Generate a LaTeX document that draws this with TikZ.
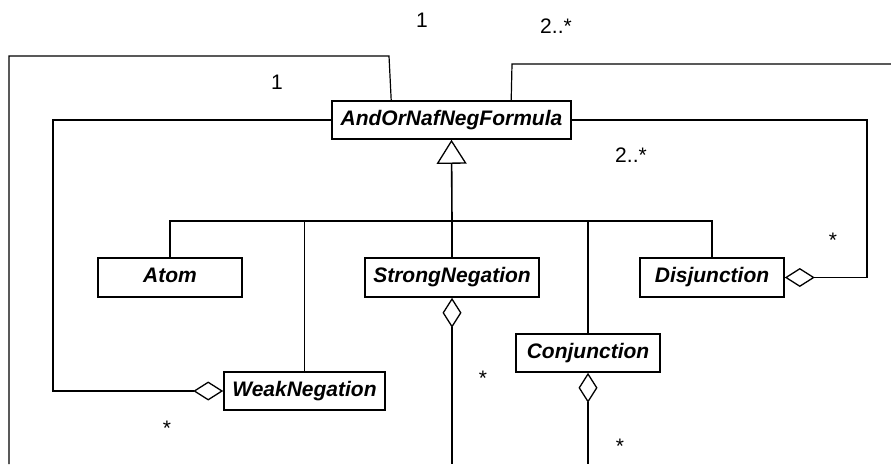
\documentclass[tikz,border=0pt]{standalone}
\usepackage{fontspec}
\setmainfont{Liberation Sans}
\usetikzlibrary{arrows.meta}
\begin{document}
\begin{tikzpicture}[x=1pt,y=-1pt,
  classbox/.style={draw, line width=1.6pt, inner sep=0pt, minimum height=38pt,
    text height=15pt, text depth=4.5pt,
    font=\fontsize{21}{25}\selectfont\bfseries\itshape},
  link/.style={line width=1.2pt},
  gen/.style={link, -{Triangle[open, length=24pt, width=30pt, line width=1.3pt]}},
  agg/.style={link, {Diamond[open, length=30pt, width=19pt, line width=1.3pt]}-},
  mult/.style={font=\fontsize{21}{25}\selectfont, inner sep=0pt},
]
\useasboundingbox (0,0) rectangle (891,464);
\clip (0,0) rectangle (891,464);

% classes
\node[classbox, minimum width=239pt] (F)  at (451.5,120)   {AndOrNafNegFormula};
\node[classbox, minimum width=144pt, minimum height=39pt] (A)  at (170,277.5) {Atom};
\node[classbox, minimum width=174pt, minimum height=39pt] (SN) at (452,277.5) {StrongNegation};
\node[classbox, minimum width=144pt, minimum height=39pt] (D)  at (712,277.5) {Disjunction};
\node[classbox, minimum width=144pt] (C)  at (588,353)   {Conjunction};
\node[classbox, minimum width=161pt] (WN) at (304.5,391) {WeakNegation};

% helper points
\coordinate (bus) at (452,221);
\coordinate (bottom) at (452,464);
\coordinate (wnbend) at (53,120);
\coordinate (dbend) at (867,120);
\coordinate (lloopA) at (389,56);
\coordinate (lloopB) at (9,56);
\coordinate (lloopC) at (9,464);
\coordinate (rloopA) at (512,64);
\coordinate (rloopB) at (891,64);

% generalisation tree
\draw[link] (A.north) |- (bus) -| (D.north);
\draw[link] (WN.north) -- (WN.north |- bus);
\draw[link] (SN.north) -- (SN.north |- bus);
\draw[link] (C.north) -- (C.north |- bus);
\draw[gen, line width=1.6pt] (bus) -- (F.south);

% aggregations
\draw[agg] (WN.west) -| (wnbend) -- (F.west);
\draw[agg] (SN.south) -- (SN.south |- bottom);
\draw[agg] (C.south) -- (C.south |- bottom);
\draw[agg] (D.east) -| (dbend) -- (F.east);

% associations leaving the top of the formula
\draw[link] ([xshift=60pt]F.north west) -- (lloopA) -- (lloopB) -- (lloopC);
\draw[link] ([xshift=180pt]F.north west) -- (rloopA) -- (rloopB);

% multiplicities
\node[mult] (m1) at (422,20) {1};
\node[mult] (m2) at (556,26) {2..*};
\node[mult] (m3) at (277,82) {1};
\node[mult] (m4) at (631,155) {2..*};
\node[mult, anchor=base] (s1) at (167,435) {*};
\node[mult, anchor=base] (s2) at (483,385) {*};
\node[mult, anchor=base] (s3) at (620,453) {*};
\node[mult, anchor=base] (s4) at (833,247) {*};
\end{tikzpicture}
\end{document}
